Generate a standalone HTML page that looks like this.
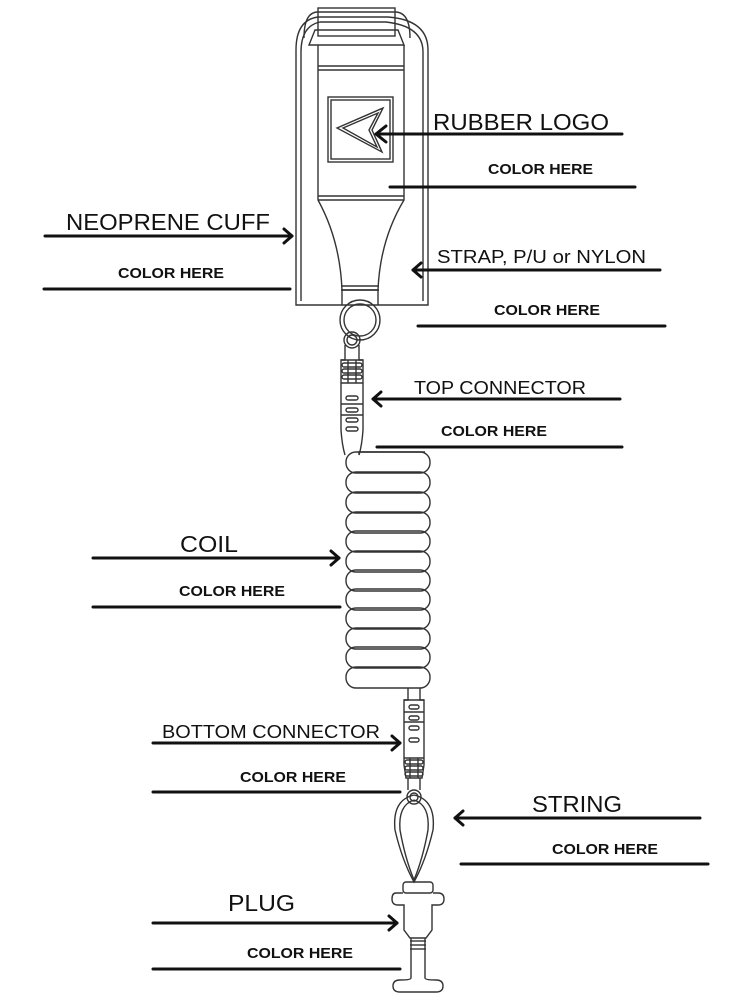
<!DOCTYPE html>
<html><head><meta charset="utf-8"><style>
html,body{margin:0;padding:0;background:#fff;}
svg{display:block}
.l{font-family:"Liberation Sans",sans-serif;fill:#111}
.b{font-family:"Liberation Sans",sans-serif;font-weight:bold;font-size:15px;fill:#111}
</style></head><body>
<svg width="750" height="1000" viewBox="0 0 750 1000" xmlns="http://www.w3.org/2000/svg">
<g fill="none" stroke="#333" stroke-width="1.4">
<path d="M296 305 V50 Q296 20 318 17 H388 Q428 20 428 50 V305 Z"/>
<path d="M301 301 V52 Q301 26 320 22 H386 Q423 26 423 52 V301"/>
<path d="M304 38 Q304 12 318 12 H395 Q410 12 410 38"/>
<rect x="318" y="8" width="77" height="28"/>
<path d="M315 30 H398 L404 45 H309 Z"/>
<path d="M318 45 V200 Q340 240 342 290 H378 Q380 240 404 200 V45"/>
<line x1="318" y1="66" x2="404" y2="66"/><line x1="318" y1="70" x2="404" y2="70"/>
<line x1="318" y1="196" x2="404" y2="196"/><line x1="318" y1="200" x2="404" y2="200"/>
<line x1="341" y1="286" x2="379" y2="286"/><line x1="341" y1="290" x2="379" y2="290"/>
<line x1="342" y1="290" x2="342" y2="305"/><line x1="378" y1="290" x2="378" y2="305"/>
<rect x="328" y="97" width="65" height="65"/><rect x="331" y="100" width="59" height="59"/>
<path d="M337 128 L383 108 L372 130 L382 152 Z"/><path d="M343 128 L378 113 L369 130 L377 147 Z"/>
<circle cx="360" cy="320" r="20"/><circle cx="360" cy="320" r="16"/>
<circle cx="352" cy="340" r="8"/><circle cx="352" cy="340" r="5"/>
<path d="M345 345 V360 H341 V430 Q342 445 345 455 M359 345 V360 H363 V430 Q362 445 359 455"/>
<line x1="341" y1="360" x2="363" y2="360"/>
<rect x="342" y="363" width="20" height="4" rx="2"/><rect x="342" y="369" width="20" height="4" rx="2"/><rect x="342" y="375" width="20" height="4" rx="2"/>
<line x1="348" y1="360" x2="348" y2="383"/><line x1="356" y1="360" x2="356" y2="383"/>
<line x1="341" y1="383" x2="363" y2="383"/>
<rect x="346" y="396" width="12" height="4" rx="2"/><line x1="341" y1="404" x2="363" y2="404"/>
<rect x="346" y="408" width="12" height="4" rx="2"/><line x1="341" y1="415" x2="363" y2="415"/>
<rect x="346" y="418" width="12" height="4" rx="2"/><rect x="346" y="427" width="12" height="4" rx="2"/>
<path d="M359 455 V452 H425"/>
<rect x="346" y="452" width="84" height="21" rx="10"/>
<rect x="346" y="472" width="84" height="21" rx="10"/>
<rect x="346" y="492" width="84" height="21" rx="10"/>
<rect x="346" y="512" width="84" height="21" rx="10"/>
<rect x="346" y="531" width="84" height="21" rx="10"/>
<rect x="346" y="551" width="84" height="21" rx="10"/>
<rect x="346" y="570" width="84" height="21" rx="10"/>
<rect x="346" y="589" width="84" height="21" rx="10"/>
<rect x="346" y="608" width="84" height="21" rx="10"/>
<rect x="346" y="628" width="84" height="21" rx="10"/>
<rect x="346" y="647" width="84" height="21" rx="10"/>
<rect x="346" y="667" width="84" height="21" rx="10"/>
<path d="M408 688 V700 H404 V765 L406 778 H422 L424 765 V700 H420 V688"/>
<line x1="404" y1="700" x2="424" y2="700"/>
<rect x="409" y="705" width="10" height="4" rx="2"/><line x1="404" y1="712" x2="424" y2="712"/>
<rect x="409" y="716" width="10" height="4" rx="2"/><line x1="404" y1="722" x2="424" y2="722"/>
<rect x="409" y="726" width="10" height="4" rx="2"/><rect x="409" y="738" width="10" height="4" rx="2"/>
<line x1="404" y1="758" x2="424" y2="758"/>
<rect x="405" y="760" width="18" height="4" rx="2"/><rect x="405" y="766" width="18" height="4" rx="2"/><rect x="405" y="772" width="18" height="4" rx="2"/>
<line x1="410" y1="758" x2="410" y2="778"/><line x1="418" y1="758" x2="418" y2="778"/>
<line x1="408" y1="778" x2="408" y2="790"/><line x1="420" y1="778" x2="420" y2="790"/>
<circle cx="414" cy="797" r="7"/><circle cx="414" cy="797" r="4"/>
<path d="M414 795 Q392 800 395 830 Q402 860 414 882 Q426 860 433 830 Q436 800 414 795"/>
<path d="M414 800 Q398 805 400 830 Q405 858 414 880 Q423 858 428 830 Q430 805 414 800"/>
<rect x="403" y="882" width="30" height="11" rx="3"/>
<path d="M403 893 H396 Q392 893 392 899 Q392 905 398 905 H404 V930 L410 938 H426 L432 930 V905 H438 Q444 905 444 899 Q444 893 438 893 H433"/>
<path d="M411 938 V952 M425 938 V952"/>
<line x1="410" y1="941" x2="426" y2="941"/><line x1="410" y1="945" x2="426" y2="945"/><line x1="410" y1="949" x2="426" y2="949"/>
<path d="M411 952 V978 Q411 980 400 980 Q393 980 393 986 Q393 992 400 992 H436 Q443 992 443 986 Q443 980 436 980 Q425 980 425 978 V952"/>
</g>
<g stroke="#111" stroke-width="3" fill="none" stroke-linecap="round" stroke-linejoin="round">
<line x1="622" y1="134" x2="376" y2="134"/><path d="M386 126 L376 134 L386 142"/>
<line x1="390" y1="187" x2="635" y2="187"/>
<line x1="45" y1="236" x2="292" y2="236"/><path d="M284 229 L292 236 L284 243"/>
<line x1="44" y1="289" x2="290" y2="289"/>
<line x1="660" y1="270" x2="413" y2="270"/><path d="M421 263 L413 270 L421 277"/>
<line x1="418" y1="326" x2="665" y2="326"/>
<line x1="620" y1="399" x2="373" y2="399"/><path d="M381 392 L373 399 L381 406"/>
<line x1="377" y1="447" x2="622" y2="447"/>
<line x1="93" y1="558" x2="339" y2="558"/><path d="M331 551 L339 558 L331 565"/>
<line x1="93" y1="607" x2="340" y2="607"/>
<line x1="153" y1="743" x2="400" y2="743"/><path d="M392 736 L400 743 L392 750"/>
<line x1="153" y1="792" x2="400" y2="792"/>
<line x1="700" y1="818" x2="455" y2="818"/><path d="M463 811 L455 818 L463 825"/>
<line x1="461" y1="864" x2="708" y2="864"/>
<line x1="153" y1="923" x2="397" y2="923"/><path d="M389 916 L397 923 L389 930"/>
<line x1="153" y1="969" x2="400" y2="969"/>
</g>
<text class="l" x="433" y="130" font-size="23" textLength="176" lengthAdjust="spacingAndGlyphs">RUBBER LOGO</text>
<text class="b" x="488" y="174" textLength="105" lengthAdjust="spacingAndGlyphs">COLOR HERE</text>
<text class="l" x="66" y="230" font-size="23" textLength="204" lengthAdjust="spacingAndGlyphs">NEOPRENE CUFF</text>
<text class="b" x="118" y="278" textLength="106" lengthAdjust="spacingAndGlyphs">COLOR HERE</text>
<text class="l" x="437" y="263" font-size="18" textLength="209" lengthAdjust="spacingAndGlyphs">STRAP, P/U or NYLON</text>
<text class="b" x="494" y="315" textLength="106" lengthAdjust="spacingAndGlyphs">COLOR HERE</text>
<text class="l" x="414" y="394" font-size="18" textLength="172" lengthAdjust="spacingAndGlyphs">TOP CONNECTOR</text>
<text class="b" x="441" y="436" textLength="106" lengthAdjust="spacingAndGlyphs">COLOR HERE</text>
<text class="l" x="180" y="552" font-size="23" textLength="58" lengthAdjust="spacingAndGlyphs">COIL</text>
<text class="b" x="179" y="596" textLength="106" lengthAdjust="spacingAndGlyphs">COLOR HERE</text>
<text class="l" x="162" y="738" font-size="18" textLength="218" lengthAdjust="spacingAndGlyphs">BOTTOM CONNECTOR</text>
<text class="b" x="240" y="782" textLength="106" lengthAdjust="spacingAndGlyphs">COLOR HERE</text>
<text class="l" x="532" y="812" font-size="23" textLength="90" lengthAdjust="spacingAndGlyphs">STRING</text>
<text class="b" x="552" y="854" textLength="106" lengthAdjust="spacingAndGlyphs">COLOR HERE</text>
<text class="l" x="228" y="911" font-size="23" textLength="67" lengthAdjust="spacingAndGlyphs">PLUG</text>
<text class="b" x="247" y="958" textLength="106" lengthAdjust="spacingAndGlyphs">COLOR HERE</text>
</svg>
</body></html>
